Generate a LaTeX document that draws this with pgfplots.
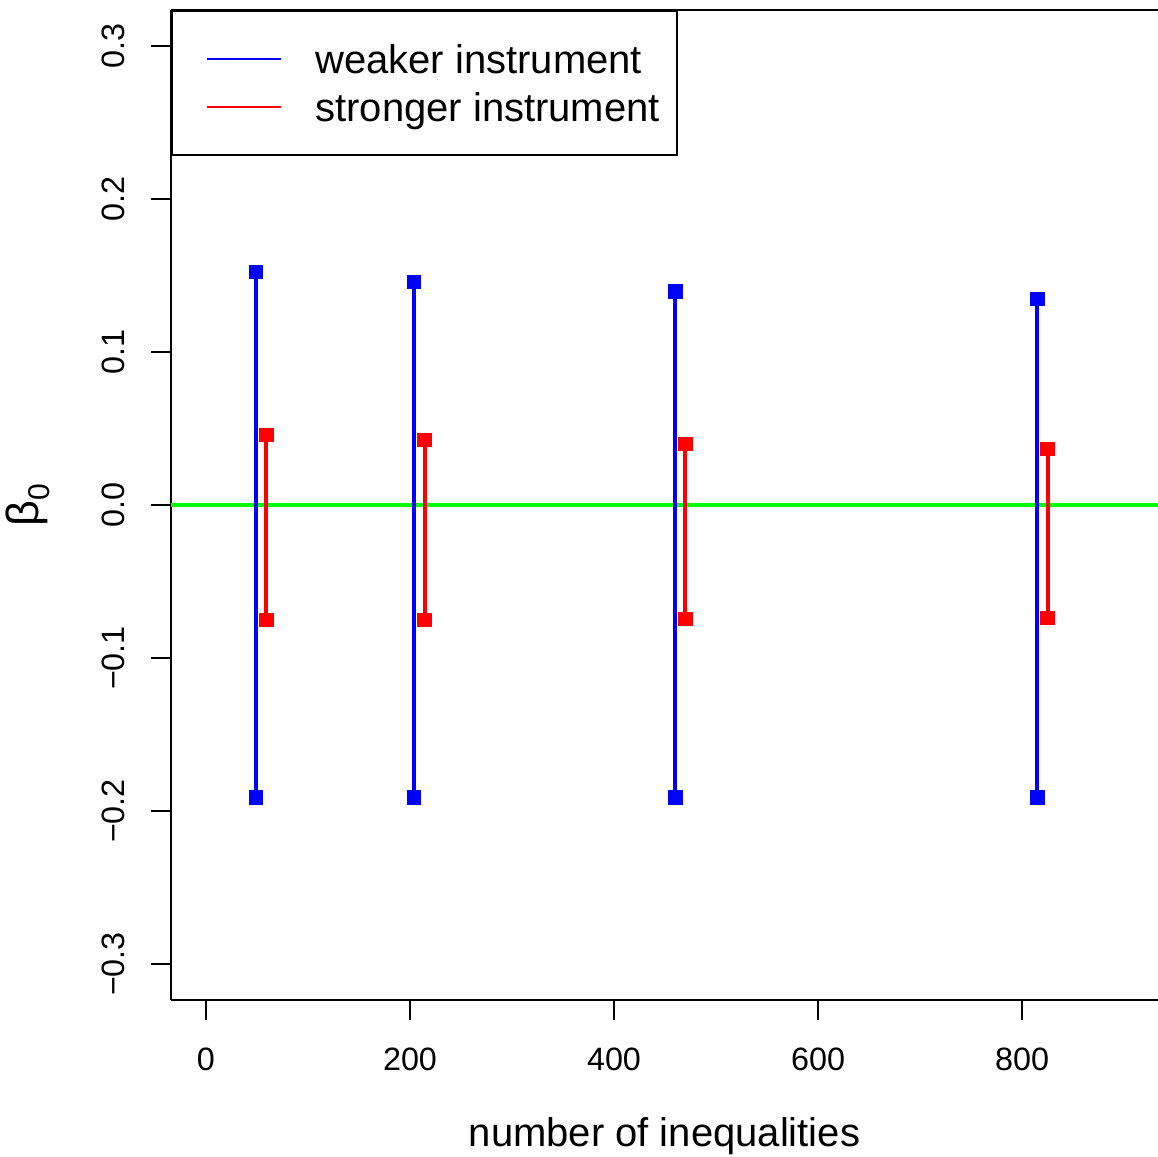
\documentclass[border=0pt]{standalone}
\usepackage{fontspec}
\setmainfont{Liberation Sans}
\usepackage{pgfplots}
\pgfplotsset{compat=1.18}
\definecolor{rgreen}{RGB}{0,255,0}
\definecolor{rblue}{RGB}{0,0,255}
\definecolor{rred}{RGB}{255,0,0}
\begin{document}
\fontsize{12}{14}\selectfont
\begin{tikzpicture}
\begin{axis}[
    scale only axis,
    width=296.1pt, height=297pt,
    xmin=-34.3, xmax=933.3,
    ymin=-0.3235, ymax=0.3235,
    axis lines*=left,
    axis line style={line width=0.6pt},
    tick style={line width=0.6pt, black},
    tick align=outside,
    major tick length=6pt,
    xtick={0,200,400,600,800},
    xticklabels={0,200,400,600,800},
    ytick={-0.3,-0.2,-0.1,0,0.1,0.2,0.3},
    yticklabels={−0.3,−0.2,−0.1,0.0,0.1,0.2,0.3},
    ticklabel style={font=\fontsize{9.7}{11}\selectfont},
    xticklabel style={anchor=north, inner sep=0pt},
    yticklabel style={rotate=90, anchor=south, inner sep=0pt},
    xticklabel shift=8.3pt,
    yticklabel shift=7.8pt,
    xlabel={number of inequalities},
    xlabel style={at={(rel axis cs:0.5,-0.1475)}, anchor=base, inner sep=0pt},
    ylabel={β\raisebox{-0.25em}{\fontsize{9}{10}\selectfont 0}},
    ylabel style={at={(rel axis cs:-0.1449,0.5)}, anchor=center, inner sep=0pt,
        font=\fontsize{13.5}{15}\selectfont},
    legend cell align=left,
    legend style={at={(rel axis cs:0,1)}, anchor=north west, draw=black,
        line width=0.6pt, fill=white, inner xsep=5.2pt, inner ysep=8.7pt,
        row sep=3pt, column sep=10pt,
        nodes={inner sep=0pt, text height=10pt, text depth=1.4pt}},
    legend image code/.code={\path[draw=none] (0pt,0pt) -- (5.3pt,0pt);
        \draw[#1] (5.3pt,0pt) -- (27.5pt,0pt);},
]
% reference line at zero
\addplot[forget plot, rgreen, line width=1.2pt] coordinates {(-34.3,0) (933.3,0)};

% weaker instrument intervals
\addplot[forget plot, rblue, line width=1.2pt, mark=square*, mark size=1.6pt,
    unbounded coords=jump] coordinates {
    (49,0.1523) (49,-0.191) (100,nan)
    (204,0.1458) (204,-0.191) (300,nan)
    (460,0.1396) (460,-0.191) (600,nan)
    (815,0.1346) (815,-0.191)
};

% stronger instrument intervals
\addplot[forget plot, rred, line width=1.2pt, mark=square*, mark size=1.6pt,
    unbounded coords=jump] coordinates {
    (59,0.0458) (59,-0.0752) (100,nan)
    (214.5,0.0425) (214.5,-0.0752) (300,nan)
    (470,0.0399) (470,-0.0745) (600,nan)
    (825,0.0366) (825,-0.0739)
};

\addlegendimage{rblue, line width=0.6pt}
\addlegendentry{weaker instrument}
\addlegendimage{rred, line width=0.6pt}
\addlegendentry{stronger instrument}

\draw[line width=0.6pt] (rel axis cs:0,1) -- (rel axis cs:1,1);
\coordinate (bl) at (rel axis cs:0,0);
\coordinate (tr) at (rel axis cs:1,1);
\end{axis}
\pgfresetboundingbox
\useasboundingbox ([xshift=-51.3pt,yshift=-46.8pt]bl) rectangle ([yshift=3pt]tr);
\end{tikzpicture}
\end{document}
